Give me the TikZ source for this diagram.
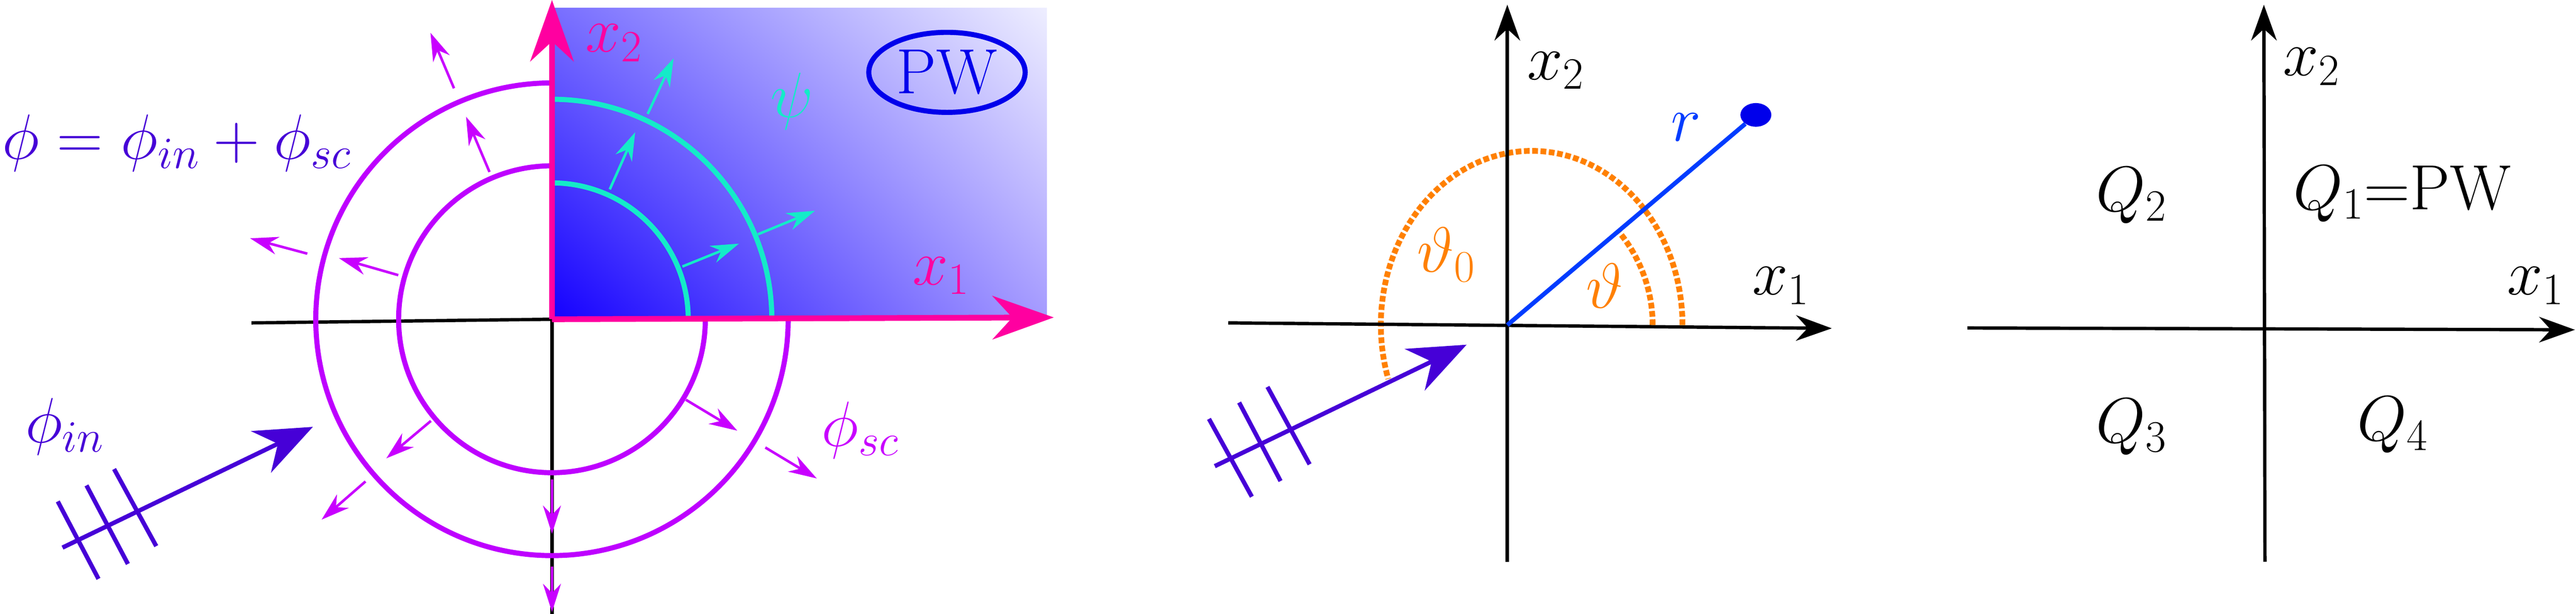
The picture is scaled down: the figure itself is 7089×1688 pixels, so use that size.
\documentclass[tikz,border=0pt]{standalone}
\usepackage{fix-cm}
\usepackage{amsmath}
\usetikzlibrary{arrows.meta,calc,shapes.geometric,shadings}
\definecolor{axpink}{RGB}{255,0,160}
\definecolor{circmag}{RGB}{190,0,255}
\definecolor{arrmag}{RGB}{200,0,255}
\definecolor{indig}{RGB}{70,0,215}
\definecolor{cyn}{RGB}{20,235,200}
\definecolor{orng}{RGB}{255,128,0}
\definecolor{lineblue}{RGB}{0,60,255}
\definecolor{pwblue}{RGB}{0,0,235}
\definecolor{shLL}{RGB}{20,0,255}
\definecolor{shUL}{RGB}{120,110,255}
\definecolor{shLR}{RGB}{165,155,255}
\definecolor{shUR}{RGB}{238,238,255}
\tikzset{
  lbl/.style={inner sep=0pt,font=\fontsize{50}{60}\selectfont},
  bigpink/.style={axpink,line width=4.5pt,-{Stealth[length=48pt,width=34pt]}},
  blackax/.style={black,line width=2.6pt},
  blackarr/.style={blackax,-{Stealth[length=28pt,width=20pt]}},
  magarr/.style={arrmag,line width=2pt,-{Stealth[length=22pt,width=14pt]}},
  cyarr/.style={cyn,line width=2pt,-{Stealth[length=22pt,width=14pt]}},
  wave/.style={indig,line width=3.4pt},
  ring/.style={line width=4pt},
}
\begin{document}
\begin{tikzpicture}[x=0.01cm,y=0.01cm]
\useasboundingbox (0,0) rectangle (7089,1688);
% ---------- left panel ----------
\coordinate (O) at (1519,810);
\shade[lower left=shLL,upper left=shUL,lower right=shLR,upper right=shUR]
  (1519,810) rectangle (2881,1666);
\draw[cyn,ring] ([shift={(0:375)}]O) arc[start angle=0,end angle=90,radius=375];
\draw[cyn,ring] ([shift={(0:605)}]O) arc[start angle=0,end angle=90,radius=605];
\draw[blackax] (692,800) -- (O);
\draw[blackax] (O) -- (1519,0);
\draw[circmag,ring] ([shift={(90:422)}]O) arc[start angle=90,end angle=360,radius=422];
\draw[circmag,ring] ([shift={(90:650)}]O) arc[start angle=90,end angle=360,radius=650];
\draw[bigpink] (O) -- (2900,815);
\draw[bigpink] (O) -- (1519,1688);
% magenta outward arrows
\foreach \a/\ra/\rb in {113/440/605, 164/440/610, 220/435/595, -31/430/595, 270/440/590,
                        113/690/856, 165/697/860, 221/680/840, -31/685/850, 270/680/805}
  \draw[magarr] ([shift={(\a:\ra)}]O) -- ([shift={(\a:\rb)}]O);
% cyan arrows
\foreach \a/\ra/\rb in {66/391/563, 22/387/555, 65/623/792, 22.4/613/783}
  \draw[cyarr] ([shift={(\a:\ra)}]O) -- ([shift={(\a:\rb)}]O);
\node[lbl,text=axpink] (lx2) at (1690,1570) {$x_2$};
\node[lbl,text=axpink] (lx1) at (2590,930) {$x_1$};
\node[lbl,text=cyn] (lpsi) at (2180,1410) {$\psi$};
\node[lbl,text=pwblue,draw=pwblue,line width=4pt,ellipse,minimum width=4.3cm,minimum height=2.2cm] (lpw) at (2606,1489) {PW};
\node[lbl,text=indig] (lphi) at (486,1295) {$\phi=\phi_{in}+\phi_{sc}$};
\node[lbl,text=indig] (lphiin) at (178,515) {$\phi_{in}$};
\node[lbl,text=arrmag] (lphisc) at (2367,505) {$\phi_{sc}$};
\coordinate (inA) at (172,182);
\coordinate (inB) at (861,514);
\draw[wave,-{Stealth[length=45pt,width=36pt]}] (inA) -- (inB);
\draw[wave] (159,309) -- (271,96);
\draw[wave] (238,353) -- (352,137);
\draw[wave] (314,398) -- (430,186);
% ---------- middle panel ----------
\coordinate (M) at (4148,794);
\draw[orng,line width=4.5pt,dotted] ([shift={(0:400)}]M) arc[start angle=0,end angle=40,radius=400];
\draw[orng,line width=4.5pt,dotted] ($(M)+(482,0)$) arc[start angle=0,end angle=198,x radius=415,y radius=479];
\draw[blackarr] (3380,800) -- (5041,785);
\draw[blackarr] (4148,143) -- (4148,1675);
\node[ellipse,fill=pwblue,inner sep=0pt,minimum width=0.85cm,minimum height=0.65cm] (dot) at (4832,1372) {};
\draw[lineblue,line width=3.4pt] (M) -- (dot);
\node[lbl,text=lineblue] (mr) at (4640,1338) {$r$};
\node[lbl] (mx2) at (4281,1494) {$x_2$};
\node[lbl] (mx1) at (4900,902) {$x_1$};
\node[lbl,text=orng] (mt0) at (3980,988) {$\vartheta_0$};
\node[lbl,text=orng] (mt) at (4416,902) {$\vartheta$};
\coordinate (mA) at (3343,406);
\coordinate (mB) at (4036,740);
\draw[wave,-{Stealth[length=45pt,width=36pt]}] (mA) -- (mB);
\draw[wave] (3327,536) -- (3445,322);
\draw[wave] (3410,581) -- (3524,365);
\draw[wave] (3488,624) -- (3604,411);
% ---------- right panel ----------
\coordinate (R) at (6233,786);
\draw[blackarr] (5414,786) -- (7086,781);
\draw[blackarr] (6233,143) -- (6230,1675);
\node[lbl] (rx2) at (6361,1505) {$x_2$};
\node[lbl] (rx1) at (6977,902) {$x_1$};
\node[lbl] (q2) at (5865,1150) {$Q_2$};
\node[lbl] (q1) at (6612,1155) {$Q_1{=}\mathrm{PW}$};
\node[lbl] (q3) at (5865,514) {$Q_3$};
\node[lbl] (q4) at (6584,519) {$Q_4$};
\end{tikzpicture}
\end{document}
